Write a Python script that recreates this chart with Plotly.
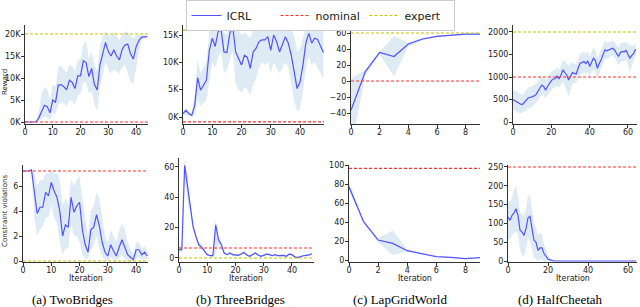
import plotly.graph_objects as go

# ---------------- data ----------------
tb_x = list(range(45))
tb_reward = [0,0,0,0,0,1000,2500,3800,3500,2100,5000,4500,8400,8500,8000,7300,9500,9000,7600,10500,10500,13900,13500,10300,12200,8500,7300,13000,15500,18100,16000,15000,16400,15000,14100,16500,17500,17700,15500,14300,17000,18500,19300,19400,19400]
tb_reward_lo = [0,0,0,0,0,0,800,1200,1000,500,2000,1800,4000,4500,4200,3500,5000,4800,3800,6000,6500,9000,9000,6500,7000,4000,2500,8000,11000,13500,12000,11000,12000,11500,11000,12500,13000,11000,9200,8500,12500,16000,18500,19000,19100]
tb_reward_hi = [0,0,0,0,0,2500,6500,8000,7500,5000,8500,8000,12500,12800,12000,11000,13000,12800,11500,14000,14500,17500,18500,14500,16000,13000,11500,17500,19500,20500,20000,19500,20500,19500,18500,20000,20500,20500,19500,19000,19800,19800,19800,19700,19600]
tb_viol = [7.2,7.2,7.2,7.3,5.5,3.8,4.3,4.3,5.5,5.2,6.3,5.6,5.1,4.0,2.0,2.9,2.7,5.1,3.9,4.4,4.7,2.5,1.3,0.7,2.5,2.7,3.7,2.8,1.5,0.7,0.4,1.3,0.8,0.4,1.1,1.7,1.1,0.5,0.3,0.1,0.9,0.9,0.5,0.7,0.4]
tb_viol_lo = [7.2,7.2,7.2,7.2,3.5,2.0,2.5,2.8,3.5,3.5,4.5,3.5,3.0,1.5,0.5,1.0,1.0,3.0,2.0,2.0,1.5,0.5,0.2,0.1,1.0,1.2,2.0,1.0,0.3,0.1,0.0,0.3,0.1,0.0,0.2,0.5,0.2,0.0,0.0,0.0,0.2,0.3,0.1,0.2,0.1]
tb_viol_hi = [7.2,7.2,7.2,7.4,7.0,6.0,6.5,6.5,7.0,7.0,7.3,7.0,7.0,6.5,4.5,5.0,4.5,6.5,6.0,6.5,6.8,5.0,3.5,2.0,4.0,4.5,5.5,5.0,3.5,2.0,1.5,2.5,2.0,1.5,2.5,3.0,2.5,1.5,1.0,0.5,1.5,1.5,1.0,1.2,0.8]
tb_nominal_reward, tb_expert_reward = 0, 20000
tb_nominal_viol, tb_expert_viol = 7.2, 0

thb_x_r = list(range(49))
thb_reward = [600,1200,600,300,2100,7200,4900,5800,6700,12200,14400,12900,15600,16000,11900,11800,15300,16500,11900,10700,9500,11300,10900,8900,11900,12600,13800,14100,14100,14700,12200,15000,13800,11900,13500,14700,13500,11300,8300,5200,6400,9500,13500,15300,13500,14400,14200,12900,11800]
thb_reward_lo = [200,500,200,0,500,3000,2000,2500,3000,6000,10000,9000,11000,12000,8000,8500,10500,12000,6000,5000,4500,5500,5000,4000,6000,7000,9000,10000,9500,10000,8000,10000,9000,8000,9000,10000,9000,6000,3000,1000,1500,4500,9000,11000,9500,10000,9000,8000,7000]
thb_reward_hi = [1000,1800,1000,700,4000,10500,8000,9000,10000,15500,16500,16000,16800,16800,15500,15000,16800,16800,16500,16000,15000,15500,15000,14500,16000,16300,16500,16500,16500,16800,16000,16800,16500,16000,16500,16800,16500,16000,15000,12000,12500,14500,16500,16800,16500,16800,16800,16500,16000]
thb_x_v = list(range(48))
thb_viol = [5.5,5.5,61,47,31.6,20.7,14.2,8.7,7.2,4.4,2.2,1.5,1.5,21.8,12,8.7,3.3,2.2,3.3,2.2,2.2,1.7,2.6,3.7,2.0,1.1,2.2,3.3,2.0,1.1,1.7,2.6,2.2,1.5,2.2,1.5,1.5,1.7,1.1,2.6,2.2,0.7,0.2,1.1,1.5,1.7,2.0,2.8]
thb_viol_lo = [4.5,3.0,52,38,28,18,12,7,6,3.5,1.5,1.0,0.5,3,8,7,2.5,1.5,2.5,1.5,1.5,1.0,1.8,2.8,1.3,0.5,1.5,2.5,1.3,0.5,1.0,1.8,1.5,0.8,1.5,0.8,0.8,1.0,0.5,1.8,1.5,0.2,0.0,0.5,0.8,1.0,1.3,2.0]
thb_viol_hi = [6.5,10,66,55,35,23,16,10.5,8.5,5.5,3.0,2.0,3,25,15,10,4.2,3.0,4.2,3.0,3.0,2.5,3.4,4.6,2.8,1.8,3.0,4.2,2.8,1.8,2.5,3.4,3.0,2.2,3.0,2.2,2.2,2.5,1.8,3.4,3.0,1.3,0.8,1.8,2.2,2.5,2.8,3.6]
thb_nominal_reward, thb_expert_reward = -900, 15900
thb_nominal_viol, thb_expert_viol = 6.6, 0

lg_x = list(range(10))
lg_reward = [-36.5,11.7,35.7,30.6,46.2,52.5,55.8,57.5,58.7,58.7]
lg_reward_lo = [-85,7,33,6,43,51,55,57,58,58]
lg_reward_hi = [3,14,37,56,48,54,57,58.5,59.5,59.5]
lg_viol = [77,40.4,21,17.5,9.8,6.3,3.5,2.8,1.4,2.5]
lg_viol_lo = [74,39,19,5,9,6,3.3,2.6,1.2,2.3]
lg_viol_hi = [82,42,23,31,11,6.8,3.8,3.0,1.6,2.7]
lg_nominal_reward, lg_expert_reward = 0, 60
lg_nominal_viol = 96.5

hc_x = list(range(65))
hc_reward = [500,470,448,420,396,390,440,500,537,545,560,580,612,680,746,821,790,709,790,858,920,955,960,1022,955,1040,1157,1100,1045,933,1010,1097,1080,1067,1200,1306,1320,1343,1300,1358,1231,1330,1418,1366,1194,1300,1381,1500,1604,1580,1604,1620,1642,1600,1530,1455,1540,1567,1560,1590,1500,1418,1480,1530,1619]
hc_reward_lo = [280,250,220,200,190,200,230,260,300,320,340,380,420,480,540,600,580,520,600,660,700,760,780,800,760,820,900,820,700,560,700,850,870,880,980,1050,1080,1100,1080,1100,1000,1100,1150,1100,980,1100,1180,1300,1400,1400,1420,1450,1480,1430,1350,1250,1330,1350,1350,1380,1250,1100,1250,1380,1480]
hc_reward_hi = [720,690,670,640,620,600,650,720,770,780,800,820,850,900,960,1040,1000,920,990,1060,1120,1150,1150,1230,1150,1250,1380,1350,1300,1250,1300,1340,1300,1270,1400,1520,1540,1560,1520,1580,1460,1550,1650,1600,1420,1520,1600,1700,1810,1760,1780,1790,1800,1770,1700,1650,1740,1760,1760,1790,1740,1720,1700,1680,1750]
hc_viol = [117,108,121,128,139,121,82,77,68,86,115,119,86,55,50,28,35,35,20,11,5,3,1,0,0,0,0,0,0,0,0,0,0,0,0,0,0,0,0,0,0,0,0,0,0,0,0,0,0,0,0,0,0,0,0,0,0,0,0,0,0,0,0,0,0]
hc_viol_lo = [55,60,70,75,80,70,30,15,10,30,60,55,30,10,5,0,5,5,0,0,0,0,0,0,0,0,0,0,0,0,0,0,0,0,0,0,0,0,0,0,0,0,0,0,0,0,0,0,0,0,0,0,0,0,0,0,0,0,0,0,0,0,0,0,0]
hc_viol_hi = [160,155,170,190,200,175,130,125,120,140,175,175,140,100,90,70,75,70,45,30,15,8,3,0,0,0,0,0,0,0,0,0,0,0,0,0,0,0,0,0,0,0,0,0,0,0,0,0,0,0,0,0,0,0,0,0,0,0,0,0,0,0,0,0,0]
hc_nominal_reward, hc_expert_reward = 1000, 2000
hc_nominal_viol = 250

captions = ["(a) TwoBridges", "(b) ThreeBridges", "(c) LapGridWorld", "(d) HalfCheetah"]

# ---------------- style ----------------
W, H = 640, 307
BLUE = "#5252ff"
BAND = "rgba(31,119,180,0.15)"
RED = "#ff3030"
YEL = "#c4c400"
TICKF = dict(family="DejaVu Sans", size=8, color="#222")

def fx(a, b):
    return [a / W, b / W]

def fy(top, bot):
    return [1 - bot / H, 1 - top / H]

panels = [
    (tb_x, tb_reward, tb_reward_lo, tb_reward_hi, tb_nominal_reward, tb_expert_reward,
     fx(25, 148), fy(25, 124), [0, 44.3], [-455, 22045], [0, 10, 20, 30, 40],
     [0, 5000, 10000, 15000, 20000], ["0K", "5K", "10K", "15K", "20K"]),
    (thb_x_r, thb_reward, thb_reward_lo, thb_reward_hi, thb_nominal_reward, thb_expert_reward,
     fx(183, 324), fy(25, 124), [0, 48.2], [-1280, 16830], [0, 10, 20, 30, 40],
     [0, 5000, 10000, 15000], ["0K", "5K", "10K", "15K"]),
    (lg_x, lg_reward, lg_reward_lo, lg_reward_hi, lg_nominal_reward, lg_expert_reward,
     fx(351, 480), fy(25, 124), [0, 9], [-53.75, 70], [0, 2, 4, 6, 8],
     [-40, -20, 0, 20, 40, 60], ["\u221240", "\u221220", "0", "20", "40", "60"]),
    (hc_x, hc_reward, hc_reward_lo, hc_reward_hi, hc_nominal_reward, hc_expert_reward,
     fx(513, 637), fy(25, 124), [0, 64.7], [-44, 2155], [0, 20, 40, 60],
     [0, 500, 1000, 1500, 2000], ["0", "500", "1000", "1500", "2000"]),
    (tb_x, tb_viol, tb_viol_lo, tb_viol_hi, tb_nominal_viol, tb_expert_viol,
     fx(23, 148), fy(165, 262), [0, 44.2], [-0.08, 7.68], [0, 10, 20, 30, 40],
     [0, 2, 4, 6], ["0", "2", "4", "6"]),
    (thb_x_v, thb_viol, thb_viol_lo, thb_viol_hi, thb_nominal_viol, thb_expert_viol,
     fx(179, 314), fy(158, 262), [0, 47.8], [-2.64, 65.9], [0, 10, 20, 30, 40],
     [0, 20, 40, 60], ["0", "20", "40", "60"]),
    (lg_x, lg_viol, lg_viol_lo, lg_viol_hi, lg_nominal_viol, None,
     fx(349, 480), fy(165, 262), [0, 9], [-2.1, 100], [0, 2, 4, 6, 8],
     [0, 20, 40, 60, 80, 100], ["0", "20", "40", "60", "80", "100"]),
    (hc_x, hc_viol, hc_viol_lo, hc_viol_hi, hc_nominal_viol, None,
     fx(508, 637), fy(165, 262), [0, 64.5], [-2.66, 255.3], [0, 20, 40, 60],
     [0, 50, 100, 150, 200, 250], ["0", "50", "100", "150", "200", "250"]),
]

fig = go.Figure()
layout = {}
for i, (x, y, lo, hi, nom, exp, xd, yd, xr, yr, xt, yt, ytt) in enumerate(panels):
    k = "" if i == 0 else str(i + 1)
    xa, ya = "x" + k, "y" + k
    fig.add_trace(go.Scatter(x=list(x) + list(x)[::-1], y=list(hi) + list(lo)[::-1],
                             xaxis=xa, yaxis=ya, fill="toself", fillcolor=BAND,
                             line=dict(width=0), mode="lines", hoverinfo="skip",
                             showlegend=False))
    fig.add_trace(go.Scatter(x=x, y=y, xaxis=xa, yaxis=ya, mode="lines",
                             line=dict(color=BLUE, width=1.2), name="ICRL",
                             showlegend=(i == 0), legendrank=1))
    fig.add_trace(go.Scatter(x=[xr[0], xr[1]], y=[nom, nom], xaxis=xa, yaxis=ya,
                             mode="lines", line=dict(color=RED, width=1.2, dash="3px,2px"),
                             name="nominal", showlegend=(i == 0), legendrank=2))
    if exp is not None:
        fig.add_trace(go.Scatter(x=[xr[0], xr[1]], y=[exp, exp], xaxis=xa, yaxis=ya,
                                 mode="lines", line=dict(color=YEL, width=1.2, dash="3px,2px"),
                                 name="expert", showlegend=(i == 0), legendrank=3))
    common = dict(showgrid=False, zeroline=False, showline=True, linecolor="#333",
                  linewidth=1, ticks="outside", ticklen=3, tickwidth=1, tickcolor="#333",
                  tickfont=TICKF, fixedrange=True, automargin=False)
    layout["xaxis" + k] = dict(domain=xd, range=xr, anchor=ya, tickmode="array",
                               tickvals=xt, ticklabelstandoff=-3, **common)
    layout["yaxis" + k] = dict(domain=yd, range=yr, anchor=xa, tickmode="array",
                               tickvals=yt, ticktext=ytt, ticklabelstandoff=-1, **common)

def note(text, px, py, size, family="DejaVu Sans", color="#222", angle=0):
    return dict(text=text, x=px / W, y=1 - py / H, xref="paper", yref="paper",
                xanchor="center", yanchor="middle", textangle=angle, showarrow=False,
                font=dict(family=family, size=size, color=color))

ann = [note("Reward", 5, 82, 7, angle=-90),
       note("Constraint violations", 5, 211, 7, angle=-90)]
for cx in [85.5, 246, 414.5, 572.5]:
    ann.append(note("Iteration", cx, 278, 8))
for cx, cap in zip([72, 240, 400, 560], captions):
    ann.append(note(cap, cx, 299, 13, family="Liberation Serif", color="#000"))

fig.update_layout(
    width=W, height=H, margin=dict(l=0, r=0, t=0, b=0, autoexpand=False),
    paper_bgcolor="white", plot_bgcolor="white",
    showlegend=True,
    legend=dict(orientation="h", xref="container", yref="container",
                x=0.5, xanchor="center", y=1.0, yanchor="top",
                bordercolor="#cccccc", borderwidth=1, bgcolor="white",
                font=dict(family="DejaVu Sans", size=11, color="#222"),
                entrywidth=44, entrywidthmode="pixels", tracegroupgap=0),
    annotations=ann,
    **layout,
)
fig.write_html("out.html", config={"displayModeBar": False},
               post_script="document.body.style.margin='0';document.body.style.overflow='hidden';")
